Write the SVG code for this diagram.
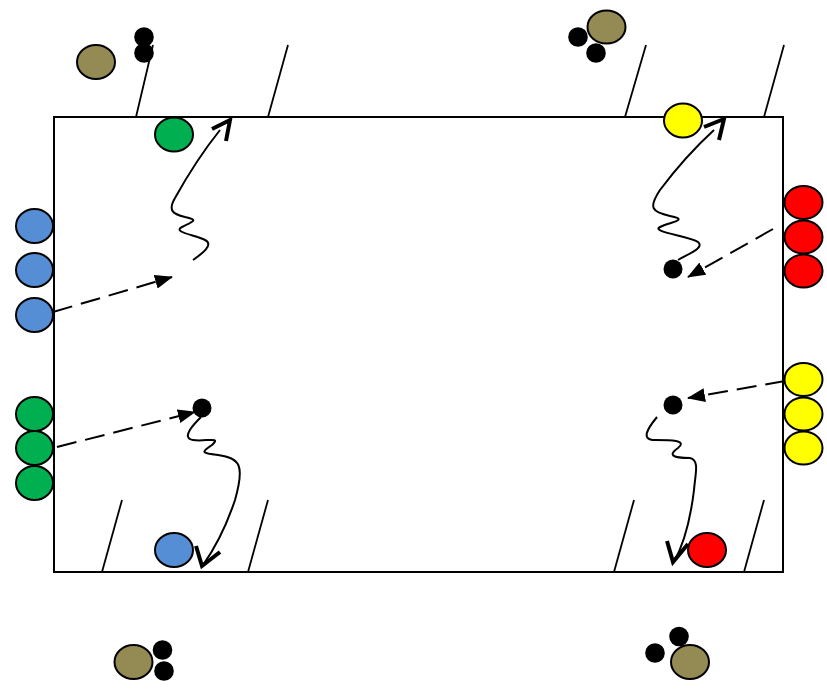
<svg xmlns="http://www.w3.org/2000/svg" width="827" height="697" viewBox="0 0 827 697">
<defs>
<style>
.p{stroke:#000;stroke-width:2}
.olive{fill:#948A54}
.green{fill:#00B050}
.blue{fill:#558ED5}
.red{fill:#FF0000}
.yellow{fill:#FFFF00}
.ball{fill:#000}
.ln{stroke:#000;stroke-width:1.8;fill:none}
.dash{stroke:#000;stroke-width:2;fill:none;stroke-dasharray:20 9}
.wave{stroke:#000;stroke-width:2;fill:none}
.head{stroke:#000;stroke-width:4;fill:none;stroke-linecap:butt;stroke-linejoin:miter}
</style>
<marker id="tri" viewBox="0 0 18 14" refX="17" refY="7" markerWidth="18" markerHeight="14" markerUnits="userSpaceOnUse" orient="auto">
<path d="M0,0 L18,7 L0,14 Z" fill="#000"/>
</marker>
</defs>
<rect width="827" height="697" fill="#fff"/>
<g id="field">
<rect x="54" y="117" width="729" height="455" fill="none" stroke="#000" stroke-width="2"/>
<line class="ln" x1="136" y1="117" x2="153" y2="45"/>
<line class="ln" x1="268" y1="117" x2="288" y2="45"/>
<line class="ln" x1="625" y1="117" x2="646" y2="45"/>
<line class="ln" x1="764" y1="117" x2="784" y2="45"/>
<line class="ln" x1="102" y1="572" x2="122" y2="500"/>
<line class="ln" x1="248" y1="572" x2="268" y2="500"/>
<line class="ln" x1="614" y1="572" x2="634" y2="500"/>
<line class="ln" x1="744" y1="572" x2="764" y2="500"/>
</g>
<g id="connectors">
<path class="dash" d="M53,312 L172,277" marker-end="url(#tri)"/>
<path class="dash" d="M57,447 L195,412" marker-end="url(#tri)"/>
<path class="dash" d="M773,229 L688,277" marker-end="url(#tri)"/>
<path class="dash" d="M785,381 L688,398" marker-end="url(#tri)"/>
<path class="wave" d="M193,260 C200,255 215,245 205,240 C195,235 172,232 182,227 C192,222 200,220 185,217 C172,214 168,210 175,198 C185,180 200,155 220,130"/>
<polyline class="head" points="212,129 230,120 226,141"/>
<path class="wave" d="M678,260 C688,254 705,248 698,242 C690,236 650,232 660,227 C670,222 690,220 670,216 C652,212 648,208 660,190 C675,170 690,152 714,130"/>
<polyline class="head" points="704,127 724,119 719,140"/>
<path class="wave" d="M201,417 C195,423 180,438 193,440 C205,442 222,436 212,445 C202,452 200,453 218,455 C240,458 245,465 235,500 C225,530 215,548 203,565"/>
<polyline class="head" points="196,546 202,566 220,552"/>
<path class="wave" d="M657,417 C648,428 640,440 655,440 C670,440 688,440 678,448 C668,455 672,458 690,458 C700,460 695,475 694,490 C691,515 686,540 674,562"/>
<polyline class="head" points="667,541 673,562 688,544"/>
</g>
<g id="tl-group">
<ellipse class="p olive" cx="96" cy="62" rx="19" ry="17"/>
<circle class="ball" cx="144" cy="37" r="9.8"/>
<circle class="ball" cx="144" cy="53" r="9.8"/>
</g>
<g id="tr-group">
<circle class="ball" cx="578" cy="37" r="9.8"/>
<circle class="ball" cx="596" cy="53" r="9.8"/>
<ellipse class="p olive" cx="606.5" cy="27" rx="19" ry="16.5"/>
</g>
<g id="bl-group">
<ellipse class="p olive" cx="133.5" cy="662" rx="19" ry="17"/>
<circle class="ball" cx="162.5" cy="650" r="9.8"/>
<circle class="ball" cx="164" cy="671" r="9.8"/>
</g>
<g id="br-group">
<circle class="ball" cx="679" cy="636.5" r="9.8"/>
<circle class="ball" cx="655" cy="653" r="9.8"/>
<ellipse class="p olive" cx="690" cy="662" rx="19" ry="17"/>
</g>
<g id="green-top"><ellipse class="p green" cx="174" cy="134.5" rx="19" ry="17"/></g>
<g id="yellow-top"><ellipse class="p yellow" cx="683" cy="120.5" rx="19" ry="17"/></g>
<g id="blue-bottom"><ellipse class="p blue" cx="174" cy="550" rx="19" ry="17"/></g>
<g id="red-bottom"><ellipse class="p red" cx="707" cy="550" rx="19" ry="17"/></g>
<g id="blue-column">
<ellipse class="p blue" cx="34.5" cy="226" rx="18.5" ry="17"/>
<ellipse class="p blue" cx="34.5" cy="270" rx="18.5" ry="17"/>
<ellipse class="p blue" cx="34.5" cy="315" rx="18.5" ry="17"/>
</g>
<g id="green-column">
<ellipse class="p green" cx="34.5" cy="414" rx="18.5" ry="17"/>
<ellipse class="p green" cx="34.5" cy="448" rx="18.5" ry="17"/>
<ellipse class="p green" cx="34.5" cy="483" rx="18.5" ry="17"/>
</g>
<g id="red-column">
<ellipse class="p red" cx="803.5" cy="202.5" rx="19" ry="16.5"/>
<ellipse class="p red" cx="803.5" cy="237" rx="19" ry="16.5"/>
<ellipse class="p red" cx="803.5" cy="271" rx="19" ry="16.5"/>
</g>
<g id="yellow-column">
<ellipse class="p yellow" cx="803.5" cy="379.5" rx="19" ry="16.5"/>
<ellipse class="p yellow" cx="803.5" cy="414" rx="19" ry="16.5"/>
<ellipse class="p yellow" cx="803.5" cy="448" rx="19" ry="16.5"/>
</g>
<g id="balls">
<circle class="ball" cx="673" cy="269" r="9.5"/>
<circle class="ball" cx="202" cy="408" r="9.5"/>
<circle class="ball" cx="673" cy="405" r="9.5"/>
</g>
</svg>
